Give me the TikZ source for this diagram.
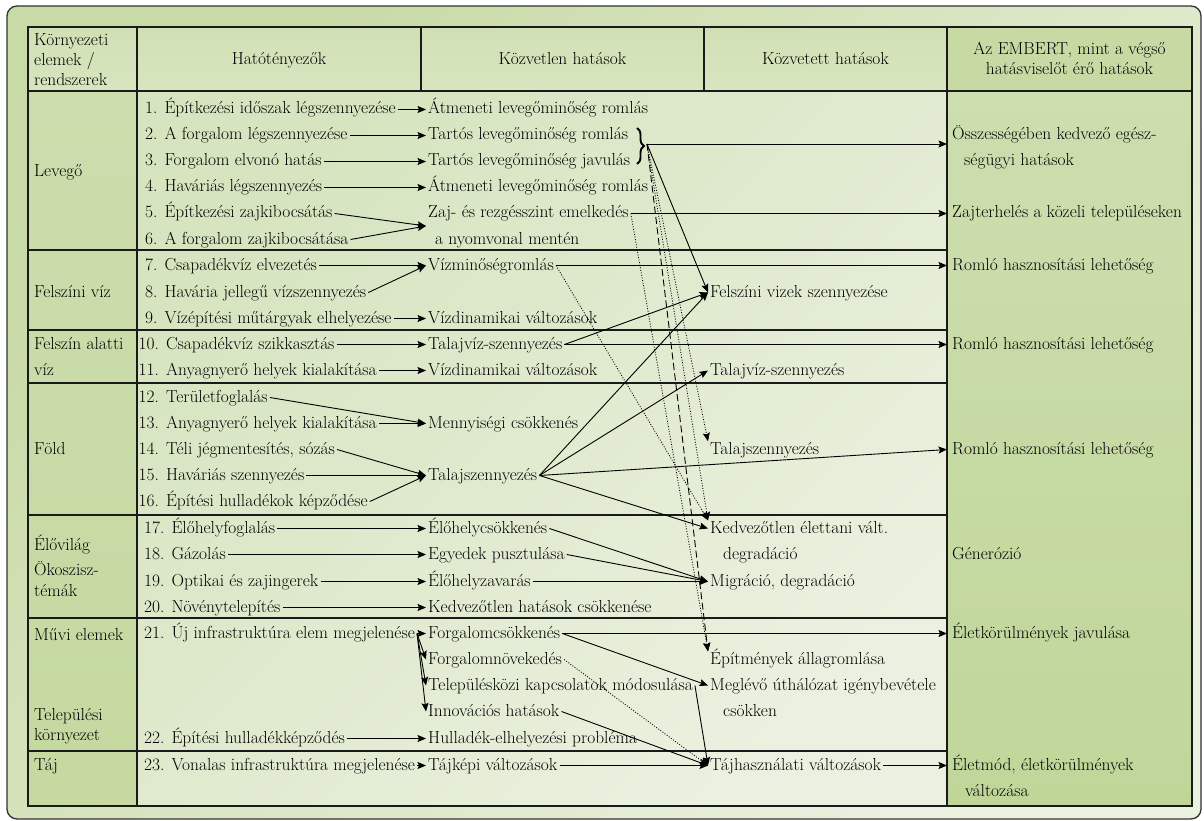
\documentclass[tikz,border=0pt]{standalone}
\usetikzlibrary{arrows.meta,decorations.pathreplacing}

\definecolor{frameTop}{HTML}{C8DAA6}
\definecolor{frameBot}{HTML}{EAF1E0}
\definecolor{frameLine}{HTML}{333333}
\definecolor{bodyTop}{HTML}{D6E4BF}
\definecolor{bodyBot}{HTML}{EBF1E0}
\definecolor{headTop}{HTML}{D0E0B4}
\definecolor{headMid}{HTML}{E4EDD3}
\definecolor{headBot}{HTML}{D8E5C0}
\definecolor{sideTop}{HTML}{CCDDAD}
\definecolor{sideMid}{HTML}{E2EBCE}
\definecolor{sideBot}{HTML}{C5D9A0}
\definecolor{humanHead}{HTML}{C8DAA3}
\definecolor{humanTop}{HTML}{CDDEAF}
\definecolor{humanMid}{HTML}{E2EBCF}
\definecolor{humanBot}{HTML}{C0D699}
\definecolor{rule}{HTML}{1A1A1A}

\begin{document}
\begin{tikzpicture}[x=1pt,y=-1pt,
  font=\fontsize{17.4}{20}\selectfont,
  lbl/.style={anchor=base west, inner xsep=2pt, inner ysep=0pt,
              text height=12.5pt, text depth=3.5pt},
  fin/.style={lbl, inner xsep=5pt},
  hd/.style={anchor=base, inner sep=0pt},
  tab/.style={draw=rule, line width=1.6pt},
  conn/.style={line width=0.9pt, -{Stealth[length=8.5pt,width=7pt,inset=1.5pt]}},
  dotconn/.style={conn, line width=0.8pt, dash pattern=on 1pt off 1.6pt},
  dashconn/.style={conn, dash pattern=on 7pt off 3.5pt}
]
\useasboundingbox (0,0) rectangle (1204,821);

% outer panel
\path[draw=frameLine, line width=1.3pt, rounded corners=10pt,
      top color=frameTop, bottom color=frameBot, shading angle=45]
  (7,6) rectangle (1201,819);

% cell backgrounds
\path[top color=headTop, middle color=headMid, bottom color=headBot] (28,27) rectangle (947,91);
\path[fill=humanHead] (947,27) rectangle (1192,91);
\path[top color=bodyTop, bottom color=bodyBot, shading angle=45] (137,91) rectangle (947,806);
\path[top color=sideTop, middle color=sideMid, bottom color=sideBot] (28,91) rectangle (137,806);
\path[top color=humanTop, middle color=humanMid, bottom color=humanBot] (947,91) rectangle (1192,806);

% table rules
\draw[tab] (28,27) rectangle (1192,806);
\draw[tab] (28,91) -- (1192,91);
\foreach \yy in {250,330,383,515,618,751} \draw[tab] (28,\yy) -- (947,\yy);
\draw[tab] (137,27) -- (137,806);
\draw[tab] (421,27) -- (421,91);
\draw[tab] (704,27) -- (704,91);
\draw[tab] (947,27) -- (947,806);

% header
\node[lbl] (h1a) at (32,46) {Környezeti};
\node[lbl] (h1b) at (32,66) {elemek /};
\node[lbl] (h1c) at (32,86) {rendszerek};
\node[hd] (h2) at (279,65) {Hatótényezők};
\node[hd] (h3) at (562.5,65) {Közvetlen hatások};
\node[hd] (h4) at (825.5,65) {Közvetett hatások};
\node[hd] (h5a) at (1069.5,55) {Az EMBERT, mint a végső};
\node[hd] (h5b) at (1069.5,75) {hatásviselőt érő hatások};

% environmental elements
\node[lbl] (r1) at (32,177) {Levegő};
\node[lbl] (r2) at (32,297) {Felszíni víz};
\node[lbl] (r3a) at (32,349) {Felszín alatti};
\node[lbl] (r3b) at (32,375) {víz};
\node[lbl] (r4) at (32,454) {Föld};
\node[lbl] (r5a) at (32,550) {Élővilág};
\node[lbl] (r5b) at (32,575) {Ökoszisz-};
\node[lbl] (r5c) at (32,596) {témák};
\node[lbl] (r6a) at (32,640) {Művi elemek};
\node[lbl] (r6b) at (32,720) {Települési};
\node[lbl] (r6c) at (32,740) {környezet};
\node[lbl] (r7) at (32,770) {Táj};

% impact factors
\node[lbl] (c1) at (143,114) {1. Építkezési időszak légszennyezése};
\node[lbl] (c2) at (143,140) {2. A forgalom légszennyezése};
\node[lbl] (c3) at (143,166) {3. Forgalom elvonó hatás};
\node[lbl] (c4) at (143,192) {4. Haváriás légszennyezés};
\node[lbl] (c5) at (143,218) {5. Építkezési zajkibocsátás};
\node[lbl] (c6) at (143,244) {6. A forgalom zajkibocsátása};
\node[lbl] (c7) at (143,270) {7. Csapadékvíz elvezetés};
\node[lbl] (c8) at (143,297) {8. Havária jellegű vízszennyezés};
\node[lbl] (c9) at (143,323) {9. Vízépítési műtárgyak elhelyezése};
\node[lbl] (c10) at (136.5,349) {10. Csapadékvíz szikkasztás};
\node[lbl] (c11) at (136.5,375) {11. Anyagnyerő helyek kialakítása};
\node[lbl] (c12) at (136.5,402) {12. Területfoglalás};
\node[lbl] (c13) at (136.5,428) {13. Anyagnyerő helyek kialakítása};
\node[lbl] (c14) at (136.5,454) {14. Téli jégmentesítés, sózás};
\node[lbl] (c15) at (136.5,480) {15. Haváriás szennyezés};
\node[lbl] (c16) at (136.5,506) {16. Építési hulladékok képződése};
\node[lbl] (c17) at (142,533) {17. Élőhelyfoglalás};
\node[lbl] (c18) at (142,559) {18. Gázolás};
\node[lbl] (c19) at (142,586) {19. Optikai és zajingerek};
\node[lbl] (c20) at (142,612) {20. Növénytelepítés};
\node[lbl] (c21) at (142,638) {21. Új infrastruktúra elem megjelenése};
\node[lbl] (c22) at (142,743) {22. Építési hulladékképződés};
\node[lbl] (c23) at (142,770) {23. Vonalas infrastruktúra megjelenése};

% direct impacts
\node[lbl] (d1) at (426,114) {Átmeneti levegőminőség romlás};
\node[lbl] (d2) at (426,140) {Tartós levegőminőség romlás};
\node[lbl] (d3) at (426,166) {Tartós levegőminőség javulás};
\node[lbl] (d4) at (426,192) {Átmeneti levegőminőség romlás};
\node[lbl] (d5) at (426,218) {Zaj- és rezgésszint emelkedés};
\node[lbl] (d5b) at (433,244) {a nyomvonal mentén};
\node[lbl] (d7) at (426,270) {Vízminőségromlás};
\node[lbl] (d9) at (426,323) {Vízdinamikai változások};
\node[lbl] (d10) at (426,349) {Talajvíz-szennyezés};
\node[lbl] (d11) at (426,375) {Vízdinamikai változások};
\node[lbl] (d13) at (426,428) {Mennyiségi csökkenés};
\node[lbl] (d15) at (426,480) {Talajszennyezés};
\node[lbl] (d17) at (426,533) {Élőhelycsökkenés};
\node[lbl] (d18) at (426,559) {Egyedek pusztulása};
\node[lbl] (d19) at (426,586) {Élőhelyzavarás};
\node[lbl] (d20) at (426,612) {Kedvezőtlen hatások csökkenése};
\node[lbl] (d21) at (426,638) {Forgalomcsökkenés};
\node[lbl] (d21b) at (426,664) {Forgalomnövekedés};
\node[lbl] (d21c) at (426,690) {Településközi kapcsolatok módosulása};
\node[lbl] (d21d) at (426,716) {Innovációs hatások};
\node[lbl] (d22) at (426,743) {Hulladék-elhelyezési probléma};
\node[lbl] (d23) at (426,770) {Tájképi változások};
\coordinate (zj) at (426,226);

% brace grouping the lasting air-quality effects
\draw[line width=1.9pt, decorate, decoration={brace, amplitude=7pt}] (637,128) -- (637,164);
\coordinate (br) at (647,144);

% indirect impacts
\node[lbl] (i1) at (708,297) {Felszíni vizek szennyezése};
\node[lbl] (i2) at (708,375) {Talajvíz-szennyezés};
\node[lbl] (i3) at (708,454) {Talajszennyezés};
\node[lbl] (i4) at (708,533) {Kedvezőtlen élettani vált.};
\node[lbl] (i4b) at (721,559) {degradáció};
\node[lbl] (i5) at (708,586) {Migráció, degradáció};
\node[lbl] (i6) at (708,664) {Építmények állagromlása};
\node[lbl] (i7) at (708,690) {Meglévő úthálózat igénybevétele};
\node[lbl] (i7b) at (721,716) {csökken};
\node[lbl] (i8) at (708,770) {Tájhasználati változások};

% impacts on people
\node[fin] (e1) at (947,140) {Összességében kedvező egész-};
\node[fin] (e1b) at (959,166) {ségügyi hatások};
\node[fin] (e2) at (947,218) {Zajterhelés a közeli településeken};
\node[fin] (e3) at (947,270) {Romló hasznosítási lehetőség};
\node[fin] (e4) at (947,349) {Romló hasznosítási lehetőség};
\node[fin] (e5) at (947,454) {Romló hasznosítási lehetőség};
\node[fin] (e6) at (947,559) {Génerózió};
\node[fin] (e7) at (947,638) {Életkörülmények javulása};
\node[fin] (e8) at (947,770) {Életmód, életkörülmények};
\node[fin] (e8b) at (960,796) {változása};

% air
\draw[conn] (c1.east) -- (d1.west);
\draw[conn] (c2.east) -- (d2.west);
\draw[conn] (c3.east) -- (d3.west);
\draw[conn] (c4.east) -- (d4.west);
\draw[conn] (c5.east) -- (zj);
\draw[conn] (c6.east) -- (zj);
\draw[conn] (br) -- (br -| e1.west);
\draw[conn] (d5.east) -- (e2.west);
\draw[conn] (br) -- (i1.west);
\draw[dashconn] (br) -- (i6.north west);
\draw[dotconn] (br) -- (i3.north west);
\draw[dotconn] (br) -- (i4.north west);
\draw[dotconn] (d5.east) -- (i6.north west);

% surface water
\draw[conn] (c7.east) -- (d7.west);
\draw[conn] (c8.east) -- (d7.west);
\draw[conn] (c9.east) -- (d9.west);
\draw[conn] (d7.east) -- (e3.west);
\draw[dotconn] (d7.east) -- (i4.north west);

% groundwater
\draw[conn] (c10.east) -- (d10.west);
\draw[conn] (c11.east) -- (d11.west);
\draw[conn] (d10.east) -- (e4.west);
\draw[conn] (d10.east) -- (i1.west);

% soil
\draw[conn] (c12.east) -- (d13.west);
\draw[conn] (c13.east) -- (d13.west);
\draw[conn] (c14.east) -- (d15.west);
\draw[conn] (c15.east) -- (d15.west);
\draw[conn] (c16.east) -- (d15.west);
\draw[conn] (d15.east) -- (i1.west);
\draw[conn] (d15.east) -- (i2.west);
\draw[conn] (d15.east) -- (e5.west);
\draw[conn] (d15.east) -- (i4.west);

% wildlife, ecosystems
\draw[conn] (c17.east) -- (d17.west);
\draw[conn] (c18.east) -- (d18.west);
\draw[conn] (c19.east) -- (d19.west);
\draw[conn] (c20.east) -- (d20.west);
\draw[conn] (d17.east) -- (i5.west);
\draw[conn] (d18.east) -- (i5.west);
\draw[conn] (d19.east) -- (i5.west);

% built elements, settlements
\draw[conn] (c21.east) -- (d21.west);
\draw[conn] (c21.east) -- (d21b.west);
\draw[conn] (c21.east) -- (d21c.west);
\draw[conn] (c21.east) -- (d21d.west);
\draw[conn] (d21.east) -- (e7.west);
\draw[conn] (d21.east) -- (i7.west);
\draw[dotconn] (d21b.east) -- (i8.west);
\draw[conn] (d21c.east) -- (i8.west);
\draw[conn] (d21d.east) -- (i8.west);
\draw[conn] (c22.east) -- (d22.west);

% landscape
\draw[conn] (c23.east) -- (d23.west);
\draw[conn] (d23.east) -- (i8.west);
\draw[conn] (i8.east) -- (e8.west);
\end{tikzpicture}
\end{document}
